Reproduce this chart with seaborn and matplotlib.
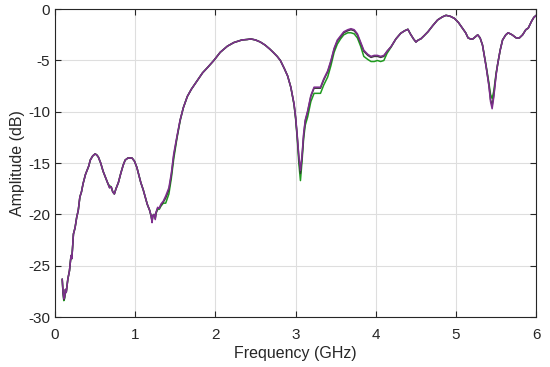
import matplotlib
matplotlib.use("Agg")
import matplotlib.pyplot as plt
import seaborn as sns
import pandas as pd

freq = [0.09, 0.10, 0.11, 0.12, 0.13, 0.14, 0.16, 0.18, 0.20, 0.21, 0.23, 0.25, 0.27, 0.29, 0.31, 0.33,
        0.35, 0.38, 0.42, 0.44, 0.47, 0.50, 0.52, 0.54, 0.57, 0.60, 0.63, 0.66, 0.68, 0.70, 0.72, 0.74,
        0.76, 0.79, 0.82, 0.85, 0.875, 0.91, 0.94, 0.96, 0.99, 1.02, 1.04, 1.07, 1.10, 1.125, 1.15, 1.18,
        1.20, 1.21, 1.22, 1.235, 1.25, 1.26, 1.28, 1.30, 1.32, 1.35, 1.38, 1.42, 1.45, 1.48, 1.52, 1.56,
        1.60, 1.65, 1.70, 1.77, 1.84, 1.90, 1.98, 2.06, 2.15, 2.23, 2.33, 2.40, 2.44, 2.50, 2.56, 2.62,
        2.68, 2.72, 2.77, 2.81, 2.86, 2.90, 2.94, 2.98, 3.00, 3.02, 3.04, 3.06, 3.08, 3.10, 3.12, 3.15,
        3.19, 3.23, 3.27, 3.31, 3.35, 3.40, 3.44, 3.48, 3.52, 3.56, 3.60, 3.65, 3.69, 3.73, 3.77, 3.81,
        3.85, 3.90, 3.94, 3.98, 4.02, 4.06, 4.10, 4.14, 4.19, 4.25, 4.31, 4.36, 4.40, 4.43, 4.47, 4.50,
        4.53, 4.56, 4.60, 4.65, 4.71, 4.77, 4.83, 4.875, 4.93, 4.98, 5.03, 5.08, 5.12, 5.15, 5.18, 5.21,
        5.24, 5.27, 5.30, 5.33, 5.375, 5.41, 5.43, 5.45, 5.47, 5.50, 5.52, 5.55, 5.58, 5.62, 5.65, 5.70,
        5.75, 5.79, 5.83, 5.87, 5.90, 5.94, 5.97, 6.00]

amp_purple = [-26.3, -27.5, -28.2, -28.0, -27.3, -27.6, -26.3, -25.5, -24.0, -24.3, -21.9, -21.3, -20.3, -19.6, -18.3, -17.8,
              -17.0, -16.1, -15.3, -14.7, -14.3, -14.1, -14.2, -14.4, -15.0, -15.8, -16.4, -17.0, -17.4, -17.3, -17.8, -18.0,
              -17.5, -16.9, -16.0, -15.2, -14.7, -14.5, -14.5, -14.5, -14.8, -15.4, -16.0, -16.9, -17.6, -18.3, -19.0, -19.6,
              -20.2, -20.8, -20.1, -20.0, -20.5, -19.8, -19.3, -19.4, -19.0, -18.7, -18.2, -17.4, -16.0, -14.1, -12.4, -10.8,
              -9.6, -8.5, -7.8, -7.0, -6.2, -5.7, -5.0, -4.2, -3.6, -3.25, -3.0, -2.95, -2.9, -3.0, -3.2, -3.5,
              -3.9, -4.2, -4.6, -5.0, -5.8, -6.5, -7.6, -9.2, -10.5, -12.3, -14.3, -15.7, -14.2, -12.1, -10.8, -9.9,
              -8.4, -7.6, -7.6, -7.6, -6.8, -6.0, -5.0, -3.8, -3.0, -2.6, -2.2, -2.0, -1.9, -2.0, -2.4, -3.2,
              -4.0, -4.4, -4.6, -4.5, -4.5, -4.6, -4.5, -4.1, -3.65, -2.9, -2.35, -2.1, -1.96, -2.4, -2.9, -3.2,
              -3.0, -2.9, -2.6, -2.2, -1.6, -1.05, -0.75, -0.6, -0.7, -0.9, -1.3, -1.85, -2.3, -2.8, -2.9, -2.9,
              -2.7, -2.5, -2.8, -3.5, -5.6, -7.5, -9.0, -9.7, -8.6, -6.4, -5.3, -4.0, -3.0, -2.5, -2.3, -2.5,
              -2.8, -2.8, -2.5, -2.0, -1.85, -1.2, -0.8, -0.6]

amp_green = [-26.3, -27.7, -28.4, -28.2, -27.4, -27.6, -26.3, -25.5, -24.0, -24.3, -21.9, -21.3, -20.3, -19.6, -18.3, -17.8,
             -17.0, -16.1, -15.3, -14.7, -14.3, -14.1, -14.2, -14.4, -15.0, -15.8, -16.4, -17.0, -17.2, -17.3, -17.8, -18.0,
             -17.5, -16.9, -16.0, -15.2, -14.7, -14.5, -14.5, -14.5, -14.8, -15.4, -16.0, -16.9, -17.6, -18.3, -19.0, -19.6,
             -20.2, -20.6, -20.1, -20.0, -20.3, -19.9, -19.5, -19.5, -19.2, -18.9, -18.9, -18.0, -16.5, -14.6, -12.6, -10.9,
             -9.6, -8.5, -7.8, -7.0, -6.2, -5.7, -5.0, -4.2, -3.6, -3.25, -3.0, -2.95, -2.9, -3.0, -3.2, -3.5,
             -3.9, -4.2, -4.6, -5.0, -5.8, -6.5, -7.6, -9.3, -10.7, -12.6, -15.0, -16.7, -14.8, -12.6, -11.3, -10.5,
             -9.0, -8.2, -8.2, -8.2, -7.4, -6.6, -5.5, -4.2, -3.4, -2.9, -2.5, -2.3, -2.3, -2.4, -2.8, -3.6,
             -4.6, -4.9, -5.1, -5.1, -5.0, -5.1, -5.0, -4.3, -3.7, -2.9, -2.35, -2.1, -1.96, -2.4, -2.9, -3.2,
             -3.0, -2.9, -2.6, -2.2, -1.6, -1.05, -0.75, -0.6, -0.7, -0.9, -1.3, -1.85, -2.3, -2.8, -2.9, -2.9,
             -2.7, -2.5, -2.8, -3.5, -5.5, -7.2, -8.3, -8.7, -8.0, -6.2, -5.3, -4.0, -3.0, -2.5, -2.3, -2.5,
             -2.8, -2.8, -2.5, -2.0, -1.85, -1.2, -0.8, -0.6]

amp_dark = [-26.3, -27.6, -28.3, -28.1, -27.3, -27.6, -26.3, -25.5, -24.0, -24.3, -21.9, -21.3, -20.3, -19.6, -18.3, -17.8,
            -17.0, -16.1, -15.3, -14.7, -14.3, -14.1, -14.2, -14.4, -15.0, -15.8, -16.4, -17.0, -17.4, -17.3, -17.8, -18.0,
            -17.5, -16.9, -16.0, -15.2, -14.7, -14.5, -14.5, -14.5, -14.8, -15.4, -16.0, -16.9, -17.6, -18.3, -19.0, -19.6,
            -20.2, -20.7, -20.1, -20.0, -20.4, -19.8, -19.4, -19.4, -19.1, -18.8, -18.4, -17.6, -16.2, -14.3, -12.5, -10.8,
            -9.6, -8.5, -7.8, -7.0, -6.2, -5.7, -5.0, -4.2, -3.6, -3.25, -3.0, -2.95, -2.9, -3.0, -3.2, -3.5,
            -3.9, -4.2, -4.6, -5.0, -5.8, -6.5, -7.6, -9.25, -10.6, -12.4, -14.5, -16.0, -14.4, -12.3, -10.9, -10.0,
            -8.5, -7.7, -7.7, -7.7, -6.9, -6.1, -5.1, -3.9, -3.1, -2.7, -2.3, -2.1, -2.0, -2.1, -2.5, -3.3,
            -4.1, -4.5, -4.7, -4.6, -4.6, -4.7, -4.6, -4.1, -3.65, -2.9, -2.35, -2.1, -1.96, -2.4, -2.9, -3.2,
            -3.0, -2.9, -2.6, -2.2, -1.6, -1.05, -0.75, -0.6, -0.7, -0.9, -1.3, -1.85, -2.3, -2.8, -2.9, -2.9,
            -2.7, -2.5, -2.8, -3.5, -5.6, -7.4, -8.8, -9.4, -8.4, -6.3, -5.3, -4.0, -3.0, -2.5, -2.3, -2.5,
            -2.8, -2.8, -2.5, -2.0, -1.85, -1.2, -0.8, -0.6]

x_ticks = [0, 1, 2, 3, 4, 5, 6]
y_ticks = [-30, -25, -20, -15, -10, -5, 0]

sns.set_theme(style="white")
plt.rcParams['font.family'] = ['Liberation Sans', 'DejaVu Sans']
plt.rcParams['axes.unicode_minus'] = False

df = pd.DataFrame({
    "freq": freq * 3,
    "amp": amp_green + amp_dark + amp_purple,
    "series": ["green"] * len(freq) + ["dark"] * len(freq) + ["purple"] * len(freq),
})

fig = plt.figure(figsize=(5.5, 3.67), dpi=100)
ax = fig.add_axes([0.1, 0.136, 0.875, 0.839])

palette = {"green": "#1f9a1f", "dark": "#3a3a3a", "purple": "#7e2f8e"}
sns.lineplot(data=df, x="freq", y="amp", hue="series", palette=palette,
             hue_order=["green", "dark", "purple"], linewidth=1.1, ax=ax,
             legend=False, sort=False, estimator=None)

ax.set_xlim(0, 6)
ax.set_ylim(-30, 0)
ax.set_xticks(x_ticks)
ax.set_yticks(y_ticks)
ax.set_xticklabels([str(t) for t in x_ticks])
ax.set_yticklabels([str(t) for t in y_ticks])
ax.grid(True, color="#dedede", linewidth=0.8)
ax.set_axisbelow(True)
for s in ax.spines.values():
    s.set_color("#262626")
    s.set_linewidth(0.8)
    s.set_visible(True)
ax.tick_params(direction="in", length=4, width=0.8, colors="#262626",
               top=True, right=True, bottom=True, left=True, labelsize=11)
ax.tick_params(axis="x", pad=7.5)
ax.tick_params(axis="y", pad=3.5)
ax.set_xlabel("Frequency (GHz)", fontsize=11.5, color="#262626", labelpad=3)
ax.set_ylabel("Amplitude (dB)", fontsize=11.5, color="#262626", labelpad=2)

fig.savefig("out.png", dpi=100)
